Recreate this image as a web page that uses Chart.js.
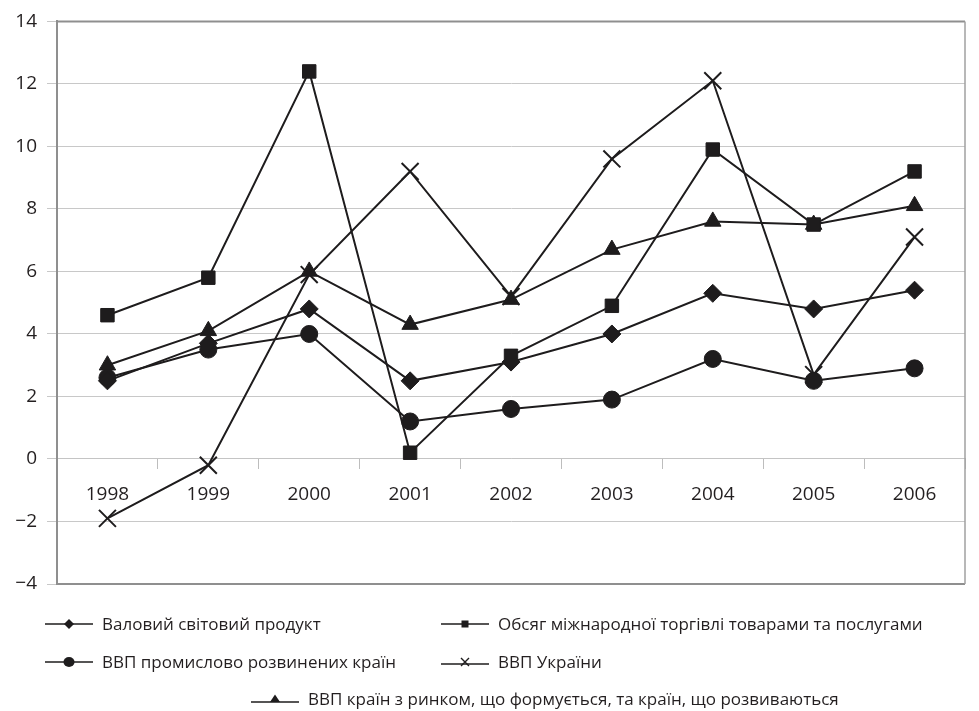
<!DOCTYPE html>
<html lang="uk">
<head>
<meta charset="utf-8">
<title>Темпи зростання</title>
<script src="https://cdn.jsdelivr.net/npm/chart.js@4.4.1/dist/chart.umd.min.js"></script>
<style>
  html, body { margin: 0; padding: 0; background: #fff; overflow: hidden; }
  #wrap { position: relative; width: 979px; height: 711px; overflow: hidden; }
  #legend { position: absolute; left: 0; top: 0; width: 979px; height: 711px; pointer-events: none; }
  .lg-item { position: absolute; height: 20px; display: flex; align-items: center; }
  .lg-item span { font-family: "Open Sans", "Noto Sans", sans-serif; font-size: 17px; line-height: 20px; color: #231f20; white-space: nowrap; margin-left: 9px; }
</style>
</head>
<body>
<div id="wrap">
  <canvas id="growthChart"></canvas>
  <div id="legend"></div>
</div>
<script>
// роки
const years = ['1998', '1999', '2000', '2001', '2002', '2003', '2004', '2005', '2006'];

// значення, %
const worldGdp = [2.5, 3.7, 4.8, 2.5, 3.1, 4.0, 5.3, 4.8, 5.4];
const worldTrade = [4.6, 5.8, 12.4, 0.2, 3.3, 4.9, 9.9, 7.5, 9.2];
const advancedGdp = [2.6, 3.5, 4.0, 1.2, 1.6, 1.9, 3.2, 2.5, 2.9];
const ukraineGdp = [-1.9, -0.2, 5.9, 9.2, 5.2, 9.6, 12.1, 2.7, 7.1];
const emergingGdp = [3.0, 4.1, 6.0, 4.3, 5.1, 6.7, 7.6, 7.5, 8.1];

const seriesLabels = [
  'Валовий світовий продукт',
  'Обсяг міжнародної торгівлі товарами та послугами',
  'ВВП промислово розвинених країн',
  'ВВП України',
  'ВВП країн з ринком, що формується, та країн, що розвиваються'
];

const yTicks = [-4, -2, 0, 2, 4, 6, 8, 10, 12, 14];

const ink = '#1e1c1d';

function series(label, data, pointStyle, radius, borderWidth) {
  return {
    label: label,
    data: data,
    borderColor: ink,
    backgroundColor: ink,
    borderWidth: 2,
    tension: 0,
    pointStyle: pointStyle,
    pointRadius: radius,
    pointBorderWidth: borderWidth,
    pointBackgroundColor: ink,
    pointBorderColor: ink
  };
}

// рамка області побудови (верх, право, низ)
const frameBorder = {
  id: 'frameBorder',
  beforeDatasetsDraw(chart) {
    const { ctx, chartArea: a } = chart;
    ctx.save();
    ctx.strokeStyle = '#8f8f8f';
    ctx.lineWidth = 2;
    ctx.beginPath();
    ctx.moveTo(a.left, a.top);
    ctx.lineTo(a.right, a.top);
    ctx.stroke();
    ctx.beginPath();
    ctx.moveTo(a.left, a.bottom);
    ctx.lineTo(a.right, a.bottom);
    ctx.stroke();
    ctx.lineWidth = 1.5;
    ctx.strokeStyle = '#a0a0a0';
    ctx.beginPath();
    ctx.moveTo(a.right, a.top);
    ctx.lineTo(a.right, a.bottom);
    ctx.stroke();
    ctx.restore();
  }
};

const tickFont = { family: '"Open Sans", "Noto Sans", sans-serif', size: 19 };

new Chart(document.getElementById('growthChart'), {
  type: 'line',
  data: {
    labels: years,
    datasets: [
      series(seriesLabels[0], worldGdp, 'rectRot', 9, 1),
      series(seriesLabels[1], worldTrade, 'rect', 9.5, 1),
      series(seriesLabels[2], advancedGdp, 'circle', 8.5, 1),
      series(seriesLabels[3], ukraineGdp, 'crossRot', 12, 2),
      series(seriesLabels[4], emergingGdp, 'triangle', 9.5, 1)
    ]
  },
  options: {
    responsive: true,
    maintainAspectRatio: false,
    animation: false,
    layout: { padding: { top: 19, right: 2, bottom: 127, left: 0 } },
    plugins: {
      legend: { display: false },
      tooltip: { enabled: false }
    },
    scales: {
      x: {
        type: 'category',
        position: { y: 0 },
        offset: true,
        grid: { offset: true, drawOnChartArea: false, drawTicks: true, tickLength: 10, color: '#bdbdbd' },
        border: { color: '#c4c4c4', width: 1 },
        ticks: { color: '#231f20', font: tickFont, padding: 14, maxRotation: 0 }
      },
      y: {
        min: -4,
        max: 14,
        afterFit(scale) { scale.width = 57; },
        afterBuildTicks(scale) { scale.ticks = yTicks.map(v => ({ value: v })); },
        grid: { color: '#c8c8c8', lineWidth: 1, drawTicks: true, tickLength: 10 },
        border: { color: '#8f8f8f', width: 2 },
        ticks: {
          color: '#231f20',
          font: tickFont,
          padding: 10,
          callback: v => (v < 0 ? '\u2212' + Math.abs(v) : String(v))
        }
      }
    }
  },
  plugins: [frameBorder]
});

// легенда
function markerSvg(style) {
  let m = '';
  if (style === 'rectRot') m = '<polygon points="24,3 29,8 24,13 19,8" fill="' + ink + '"/>';
  if (style === 'rect') m = '<rect x="20.5" y="4.5" width="7" height="7" fill="' + ink + '"/>';
  if (style === 'circle') m = '<ellipse cx="24" cy="8" rx="5.5" ry="5" fill="' + ink + '"/>';
  if (style === 'crossRot') m = '<path d="M20 4 L28 12 M28 4 L20 12" stroke="' + ink + '" stroke-width="1.4"/>';
  if (style === 'triangle') m = '<polygon points="24,3.5 29,11 19,11" fill="' + ink + '"/>';
  const lineY = style === 'triangle' ? 11 : (style === 'crossRot' ? 10 : 8);
  return '<svg width="48" height="16" viewBox="0 0 48 16">' +
    '<line x1="0" y1="' + lineY + '" x2="48" y2="' + lineY + '" stroke="' + ink + '" stroke-width="1.6"/>' + m + '</svg>';
}

const legendLayout = [
  { style: 'rectRot', x: 45, y: 624 },
  { style: 'rect', x: 441, y: 624 },
  { style: 'circle', x: 45, y: 662 },
  { style: 'crossRot', x: 441, y: 662 },
  { style: 'triangle', x: 251, y: 699 }
];

const legendEl = document.getElementById('legend');
legendLayout.forEach((item, i) => {
  const div = document.createElement('div');
  div.className = 'lg-item';
  div.style.left = item.x + 'px';
  div.style.top = (item.y - 10) + 'px';
  div.innerHTML = markerSvg(item.style) + '<span>' + seriesLabels[i] + '</span>';
  legendEl.appendChild(div);
});
</script>
</body>
</html>
